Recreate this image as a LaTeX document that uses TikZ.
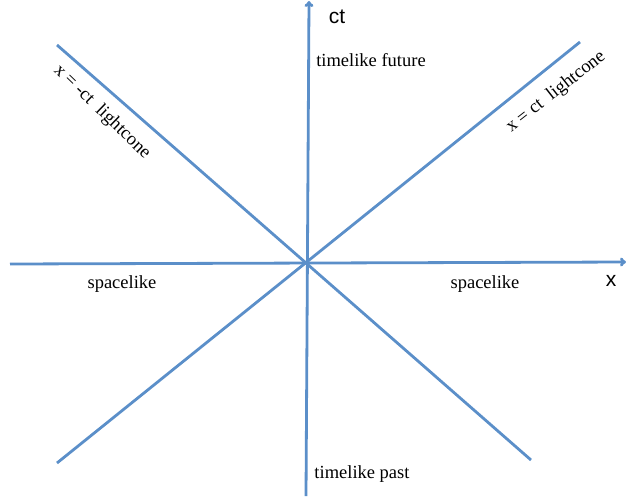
\documentclass[tikz,border=0pt]{standalone}
\usepackage{fontspec}
\setmainfont{Liberation Serif}
\setsansfont{Liberation Sans}
\usetikzlibrary{arrows.meta,positioning}
\definecolor{ConeBlue}{HTML}{5B8FC9}
\tikzset{
    % Axes and light cone lines
    axis/.style={
        -{To[length=6pt,width=9pt]},
        line width=2.8pt,
        color=ConeBlue
    },
    cone/.style={
        line width=2.8pt,
        color=ConeBlue
    },
    region label/.style={
        font=\fontsize{18.5}{20}\selectfont,
        text=black,
        inner sep=1pt
    },
    axis label/.style={
        font=\sffamily\fontsize{21}{23}\selectfont,
        text=black
    }
}
\begin{document}
\begin{tikzpicture}[x=1pt,y=-1pt]
        \useasboundingbox (0,0) rectangle (626,499);
        % Points
        \coordinate (origin) at (307,264);
        \coordinate (xleft) at (10,264);
        \coordinate (xright) at (626,262);
        \coordinate (tbottom) at (306,496);
        \coordinate (ttop) at (309,1);
        \coordinate (conetl) at (57,45);
        \coordinate (conebr) at (531,460);
        \coordinate (conetr) at (580,42);
        \coordinate (conebl) at (57,463);

        % Lines
        \draw[cone] (conetl) -- (conebr);
        \draw[cone] (conetr) -- (conebl);
        \draw[axis] (xleft) -- (xright);
        \draw[axis] (tbottom) -- (ttop);

        % Labels
        \node[axis label] (ctlabel) at (337,17) {ct};
        \node[axis label] (xlabel) at (611,281) {x};
        \node[region label] (future) at (371,60) {timelike future};
        \node[region label] (past) at (362,474) {timelike past};
        \node[region label] (spaceleft) at (122,284) {spacelike};
        \node[region label] (spaceright) at (485,284) {spacelike};
        \node[region label, rotate=-44] (minuslabel) at (102,112) {x = -ct\ \ lightcone};
        \node[region label, rotate=38] (pluslabel) at (556,92) {x = ct\ \ lightcone};
    \end{tikzpicture}
\end{document}
